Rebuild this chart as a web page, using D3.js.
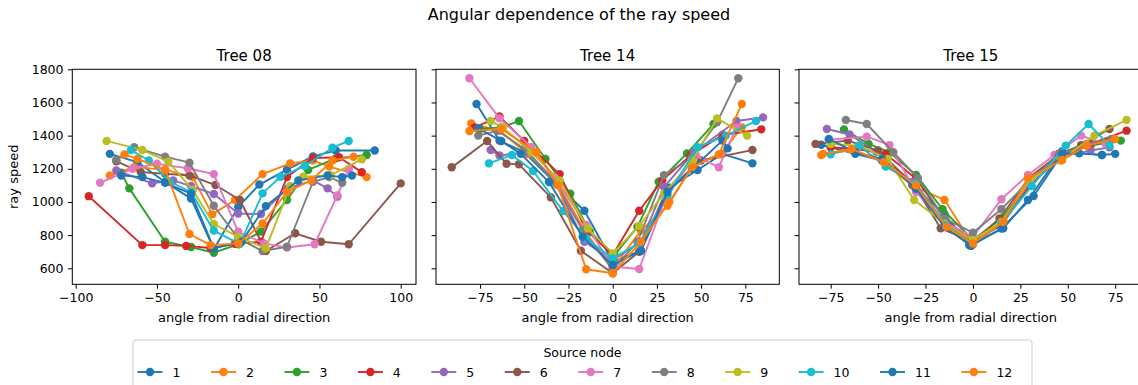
<!DOCTYPE html>
<html><head><meta charset="utf-8">
<script src="https://cdn.jsdelivr.net/npm/d3@7"></script>
<style>body{margin:0;background:#fff} text{font-family:"DejaVu Sans",sans-serif}</style>
</head><body><svg id="c" width="1138" height="385"></svg>
<script>
// ---------- data ----------
const chartTitle = "Angular dependence of the ray speed";
const treeNames = ["Tree 08", "Tree 14", "Tree 15"];
const sourceNodes = ["1","2","3","4","5","6","7","8","9","10","11","12"];
const seriesColors = ["#1f77b4","#ff7f0e","#2ca02c","#d62728","#9467bd","#8c564b","#e377c2","#7f7f7f","#bcbd22","#17becf","#1f77b4","#ff7f0e"];
const yTicks = [600, 800, 1000, 1200, 1400, 1600, 1800];
const xTicksTree08 = [-100, -50, 0, 50, 100];
const xTicksTree14 = [-75, -50, -25, 0, 25, 50, 75];
const xTicksTree15 = [-75, -50, -25, 0, 25, 50, 75];

// Tree 08 : angle / speed per source node
const tree08Angle = [
  [-79,-62,-45,-29,-15,0,13,30,46,60,84],
  [-79,-64,-45,-28,-16,-2,15,32,46,56,79],
  [-72,-67,-45,-29,-15,0,14,30,43,60,79],
  [-92,-59,-45,-32,-17,-2,14,30,46,62,76],
  [-75,-53,-40,-29,-15,0,14,30,46,55,61],
  [-75,-60,-45,-30,-14,1,17,35,51,68,100],
  [-85,-65,-50,-31,-15,0,16,30,47,61,68],
  [-75,-64,-45,-30,-15,0,15,30,46,56,64],
  [-81,-59,-43,-28,-15,0,17,32,40,57,76],
  [-66,-55,-42,-29,-15,1,15,26,41,58,68],
  [-72,-59,-45,-29,-15,2,17,37,55,64,70],
  [-70,-62,-45,-30,-17,0,15,30,45,58,71]
];
const tree08Speed = [
  [1290,1240,1120,1020,715,970,1105,1195,1275,1310,1310],
  [1160,1210,1195,1150,925,1012,1168,1233,1250,1213,1150],
  [1176,1082,760,728,694,745,821,1012,1193,1263,1283],
  [1035,740,740,735,722,748,760,1150,1265,1270,1180],
  [1190,1112,1130,1096,1048,930,927,1080,1130,1082,1032],
  [1245,1180,1170,1160,1102,1012,704,811,760,745,1112],
  [1116,1200,1230,1203,1168,820,750,725,745,1040,1197],
  [1254,1330,1273,1237,977,780,704,730,1122,1150,1116],
  [1368,1313,1243,1072,867,790,720,1096,1152,1162,1257],
  [1313,1250,1122,1060,827,746,1052,1152,1217,1327,1368],
  [1160,1150,1115,1050,720,760,975,1130,1160,1150,1160],
  [1287,1260,1193,807,740,750,870,1060,1130,1250,1273]
];

// Tree 14
const tree14Angle = [
  [-77,-64,-50,-34,-16,0,16,32,48,62,79],
  [-80,-64,-48,-32,-15,0,16,31,46,61,73],
  [-75,-63,-53,-38,-24,-13,1,14,26,42,57],
  [-78,-64,-50,-30,-15,0,15,28,44,62,84],
  [-69,-64,-48,-33,-16,0,16,29,46,70,85],
  [-91,-71,-60,-53,-35,-18,0,15,30,50,79],
  [-81,-64,-46,-33,-15,0,15,30,47,60,70],
  [-76,-65,-50,-32,-17,0,14,29,45,59,71],
  [-69,-62,-46,-30,-14,0,15,29,45,59,76],
  [-70,-57,-45,-28,-15,0,15,31,48,64,81],
  [-76,-63,-52,-36,-17,0,16,31,45,62,65],
  [-81,-63,-43,-31,-15,0,16,32,45,60,73]
];
const tree14Speed = [
  [1591,1370,1300,1130,947,640,706,1086,1193,1290,1233],
  [1474,1430,1289,1126,811,600,827,977,1229,1287,1450],
  [1440,1450,1488,1259,1050,820,680,850,1122,1293,1470],
  [1450,1515,1368,1168,830,680,947,1130,1280,1404,1438],
  [1313,1280,1300,1130,760,650,760,1090,1300,1488,1510],
  [1209,1368,1230,1227,1028,706,570,700,1060,1250,1313],
  [1746,1504,1331,1150,861,610,596,1030,1280,1209,1450],
  [1400,1430,1320,1110,830,590,760,1162,1270,1480,1746],
  [1488,1450,1300,1130,840,690,855,1052,1250,1504,1400],
  [1233,1283,1187,945,780,660,750,1040,1330,1400,1488],
  [1444,1368,1290,1120,790,620,706,1060,1200,1370,1323],
  [1428,1440,1300,1100,594,570,760,1000,1210,1287,1591]
];

// Tree 15
const tree15Angle = [
  [-80,-62,-48,-32,-15,-2,16,29,47,68,75],
  [-80,-64,-47,-31,-15,0,16,29,47,60,74],
  [-68,-55,-44,-30,-16,0,15,30,45,62,78],
  [-75,-62,-46,-30,-15,0,15,30,46,62,81],
  [-77,-65,-51,-32,-15,0,15,30,45,62,72],
  [-83,-66,-50,-31,-17,0,14,30,46,57,72],
  [-76,-56,-44,-30,-15,0,15,29,43,57,70],
  [-67,-56,-42,-29,-15,0,15,30,45,60,73],
  [-75,-60,-45,-31,-15,0,15,30,46,64,81],
  [-75,-60,-46,-30,-14,0,15,31,49,61,72],
  [-76,-62,-48,-30,-15,-1,15,32,47,56,68],
  [-79,-64,-47,-30,-14,0,16,29,47,60,75]
];
const tree15Speed = [
  [1345,1290,1250,1102,927,740,841,1012,1305,1283,1290],
  [1283,1313,1243,1092,1012,743,887,1143,1253,1340,1378],
  [1437,1350,1300,1163,956,770,900,1120,1290,1340,1370],
  [1330,1320,1290,1140,900,760,860,1100,1270,1350,1430],
  [1440,1407,1303,1120,880,750,870,1120,1270,1310,1330],
  [1350,1370,1310,1100,841,760,900,1150,1290,1343,1440],
  [1375,1394,1343,1060,880,790,1016,1163,1283,1400,1350],
  [1494,1470,1300,1143,900,815,956,1130,1280,1350,1380],
  [1350,1340,1260,1012,870,770,880,1130,1250,1400,1494],
  [1287,1340,1213,1110,860,746,870,1096,1340,1470,1340],
  [1380,1300,1260,1080,850,735,840,1036,1290,1293,1283],
  [1290,1320,1240,1100,850,750,880,1143,1253,1340,1380]
];

// ---------- drawing ----------
const svg = d3.select("#c");
svg.append("rect").attr("width",1138).attr("height",385).attr("fill","#fff");

const panels = [
  {name: treeNames[0], angle: tree08Angle, speed: tree08Speed, ticks: xTicksTree08, dom: [-102.1, 109.4], x0: 72.3, x1: 416},
  {name: treeNames[1], angle: tree14Angle, speed: tree14Speed, ticks: xTicksTree14, dom: [-99.9, 94.2], x0: 436, x1: 779.3},
  {name: treeNames[2], angle: tree15Angle, speed: tree15Speed, ticks: xTicksTree15, dom: [-91.7, 89.4], x0: 799, x1: 1142.5}
];
const yTop = 69.3, yBot = 284.3;
const y = d3.scaleLinear().domain([503.5, 1800]).range([yBot, yTop]);
const fmt = d => d < 0 ? "\u2212" + Math.abs(d) : String(d);

svg.append("text").attr("x", 579).attr("y", 20).attr("text-anchor","middle")
  .attr("font-size", 16).text(chartTitle);

panels.forEach((p, pi) => {
  const x = d3.scaleLinear().domain(p.dom).range([p.x0, p.x1]);
  const g = svg.append("g");
  // series
  p.angle.forEach((angs, si) => {
    const pts = angs.map((a, k) => [a, p.speed[si][k]]);
    const sg = g.append("g");
    sg.append("path").datum(pts)
      .attr("d", d3.line().x(d => x(d[0])).y(d => y(d[1])))
      .attr("fill","none").attr("stroke", seriesColors[si]).attr("stroke-width", 1.9)
      .attr("stroke-linejoin","round").attr("stroke-linecap","square");
    sg.selectAll("circle").data(pts).join("circle")
      .attr("cx", d => x(d[0])).attr("cy", d => y(d[1])).attr("r", 4.2)
      .attr("fill", seriesColors[si]);
  });
  // frame
  g.append("rect").attr("x", p.x0).attr("y", yTop).attr("width", p.x1 - p.x0).attr("height", yBot - yTop)
    .attr("fill","none").attr("stroke","#000").attr("stroke-width",1);
  // x axis
  const xa = g.append("g").attr("transform", `translate(0,${yBot})`)
    .call(d3.axisBottom(x).tickValues(p.ticks).tickSize(4.4).tickPadding(4.4).tickFormat(fmt));
  xa.select(".domain").remove();
  xa.selectAll("text").attr("font-size", 12.5).attr("font-family","DejaVu Sans").attr("fill","#000");
  xa.selectAll("line").attr("stroke","#000");
  // y axis
  const ya = g.append("g").attr("transform", `translate(${p.x0},0)`)
    .call(d3.axisLeft(y).tickValues(yTicks).tickSize(4.4).tickPadding(4.4).tickFormat(pi === 0 ? d3.format("d") : ""));
  ya.select(".domain").remove();
  ya.selectAll("text").attr("font-size", 12.5).attr("font-family","DejaVu Sans").attr("fill","#000");
  ya.selectAll("line").attr("stroke","#000");
  // titles
  g.append("text").attr("x", (p.x0 + p.x1) / 2).attr("y", 61).attr("text-anchor","middle")
    .attr("font-size", 15).text(p.name);
  g.append("text").attr("x", (p.x0 + p.x1) / 2).attr("y", 322).attr("text-anchor","middle")
    .attr("font-size", 13).text("angle from radial direction");
});

svg.append("text").attr("transform", `translate(18,${(yTop + yBot) / 2}) rotate(-90)`)
  .attr("text-anchor","middle").attr("font-size", 13).text("ray speed");

// legend
const lg = svg.append("g");
lg.append("rect").attr("x", 133).attr("y", 340).attr("width", 899).attr("height", 50)
  .attr("rx", 3).attr("fill","#fff").attr("stroke","#ccc").attr("stroke-width",1);
lg.append("text").attr("x", 582.5).attr("y", 357).attr("text-anchor","middle").attr("font-size", 12.5).text("Source node");
let cx = 137.5;
sourceNodes.forEach((lab, i) => {
  const eg = lg.append("g");
  const my = 372;
  eg.append("line").attr("x1", cx).attr("x2", cx + 25).attr("y1", my).attr("y2", my)
    .attr("stroke", seriesColors[i]).attr("stroke-width", 1.9);
  eg.append("circle").attr("cx", cx + 12.5).attr("cy", my).attr("r", 4.2).attr("fill", seriesColors[i]);
  const t = eg.append("text").attr("x", cx + 35).attr("y", my + 4.5).attr("font-size", 12.5).text(lab);
  const w = t.node().getComputedTextLength();
  cx = cx + 35 + w + 30.5;
});
</script></body></html>
